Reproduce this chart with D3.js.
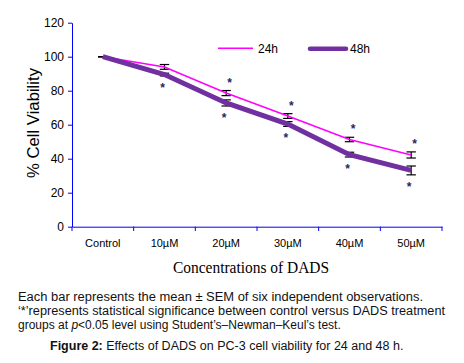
<!DOCTYPE html>
<html><head><meta charset="utf-8">
<script src="https://cdn.jsdelivr.net/npm/d3@7"></script>
<style>body{margin:0;background:#fff;} svg{display:block;}</style>
</head><body>
<svg id="c" width="464" height="363"></svg>
<script>
const categories = ["Control","10\u00b5M","20\u00b5M","30\u00b5M","40\u00b5M","50\u00b5M"];
const v24 = [100, 94, 78.6, 65.1, 51.3, 42.2];
const sem24 = [0, 1.4, 1.5, 1.4, 1.3, 1.8];
const v48 = [100, 89.5, 72.8, 60.4, 42.4, 33.1];
const sem48 = [0, 0.8, 1.8, 1.4, 1.4, 2.6];
const sig24 = [false, false, true, true, true, true];
const sig48 = [false, true, true, true, true, true];
const yTicks = [0,20,40,60,80,100,120];

const svg = d3.select("#c");
const x = d3.scaleBand().domain(categories).range([72, 442]);
const y = d3.scaleLinear().domain([0,120]).range([226.7, 22.7]);
const blue = "#0000ff";

// Y axis
const ya = svg.append("g").attr("transform","translate(72,0)")
  .call(d3.axisLeft(y).tickValues(yTicks).tickSize(4).tickSizeOuter(0));
ya.select(".domain").attr("stroke", blue);
ya.selectAll(".tick line").attr("stroke", blue);
ya.selectAll(".tick text").attr("fill","#000").attr("font-family","Arial, 'Liberation Sans', sans-serif").attr("font-size",12).attr("x",-8);

// X axis
const xa = svg.append("g").attr("transform","translate(0,226.7)")
  .call(d3.axisBottom(x).tickSize(0).tickSizeOuter(0));
xa.select(".domain").attr("stroke", blue);
xa.selectAll(".tick text").attr("fill","#000").attr("font-family","Arial, 'Liberation Sans', sans-serif").attr("font-size",11).attr("dy",0).attr("y",20);
// band boundary ticks
const bounds = categories.map(c => x(c)).concat([x.range()[1]]);
svg.append("g").selectAll("line").data(bounds).join("line")
  .attr("x1",d=>d).attr("x2",d=>d).attr("y1",226.7).attr("y2",231)
  .attr("stroke",blue).attr("stroke-width",1);

const cx = c => x(c) + x.bandwidth()/2;
const line = d3.line().x((d,i)=>cx(categories[i])).y(d=>y(d));

// error bars
function errBars(vals, sems){
  const g = svg.append("g").attr("stroke","#000").attr("stroke-width",1.2);
  vals.forEach((v,i)=>{
    const xc = cx(categories[i]);
    const s = sems[i];
    if(i>0) g.append("line").attr("x1",xc).attr("x2",xc).attr("y1",y(v+s)).attr("y2",y(v-s));
    g.append("line").attr("x1",xc-4.7).attr("x2",xc+4.7).attr("y1",y(v+s)).attr("y2",y(v+s));
    g.append("line").attr("x1",xc-4.7).attr("x2",xc+4.7).attr("y1",y(v-s)).attr("y2",y(v-s));
  });
}
errBars(v24, sem24);
errBars(v48, sem48);

svg.append("path").datum(v24).attr("d",line).attr("fill","none").attr("stroke","#ff00ff").attr("stroke-width",1.6);
svg.append("path").datum(v48).attr("d",line).attr("fill","none").attr("stroke","#7030a0").attr("stroke-width",5);

// significance stars
const starG = svg.append("g").attr("font-family","Arial, sans-serif").attr("font-size",12).attr("font-weight","bold").attr("fill","#1f2a60").attr("text-anchor","middle");
v24.forEach((v,i)=>{ if(sig24[i]) starG.append("text").attr("x",cx(categories[i])+3.5).attr("y",y(v+sem24[i])-4).text("*"); });
v48.forEach((v,i)=>{ if(sig48[i]) starG.append("text").attr("x",cx(categories[i])-2).attr("y",y(v-sem48[i])+16).text("*"); });

// legend
svg.append("line").attr("x1",218).attr("x2",253).attr("y1",48.3).attr("y2",48.3).attr("stroke","#ff00ff").attr("stroke-width",1.6);
svg.append("text").attr("x",258).attr("y",52.5).attr("font-family","Arial, sans-serif").attr("font-size",12).attr("fill","#000").text("24h");
svg.append("line").attr("x1",310).attr("x2",346).attr("y1",48.8).attr("y2",48.8).attr("stroke","#7030a0").attr("stroke-width",4.5).attr("stroke-linecap","round");
svg.append("text").attr("x",350).attr("y",52.5).attr("font-family","Arial, sans-serif").attr("font-size",12).attr("fill","#000").text("48h");

// axis titles
svg.append("text").attr("transform","translate(39,123) rotate(-90)").attr("text-anchor","middle")
  .attr("font-family","Arial, 'Liberation Sans', sans-serif").attr("font-size",16.5).attr("fill","#000")
  .attr("textLength",110).attr("lengthAdjust","spacingAndGlyphs").text("% Cell Viability");
svg.append("text").attr("x",251).attr("y",273).attr("text-anchor","middle")
  .attr("font-family","'Times New Roman', 'Liberation Serif', serif").attr("font-size",16).attr("fill","#000")
  .attr("textLength",156).attr("lengthAdjust","spacingAndGlyphs").text("Concentrations of DADS");

// caption
const cap = svg.append("g").attr("font-family","Arial, 'Liberation Sans', sans-serif").attr("font-size",12).attr("fill","#111");
cap.append("text").attr("x",18).attr("y",301).attr("textLength",405).attr("lengthAdjust","spacingAndGlyphs").text("Each bar represents the mean \u00b1 SEM of six independent observations.");
cap.append("text").attr("x",18).attr("y",315).attr("textLength",427).attr("lengthAdjust","spacingAndGlyphs").text("\u2018*\u2019represents statistical significance between control versus DADS treatment");
const t3 = cap.append("text").attr("x",18).attr("y",329);
t3.append("tspan").text("groups at ");
t3.append("tspan").attr("font-style","italic").text("p");
t3.append("tspan").text("<0.05 level using Student\u2019s\u2013Newman\u2013Keul\u2019s test.");
const t4 = svg.append("text").attr("x",50).attr("y",349.5).attr("font-family","Arial, 'Liberation Sans', sans-serif").attr("font-size",12.5).attr("fill","#111");
t4.append("tspan").attr("font-weight","bold").text("Figure 2:");
t4.append("tspan").text(" Effects of DADS on PC-3 cell viability for 24 and 48 h.");
</script>
</body></html>
